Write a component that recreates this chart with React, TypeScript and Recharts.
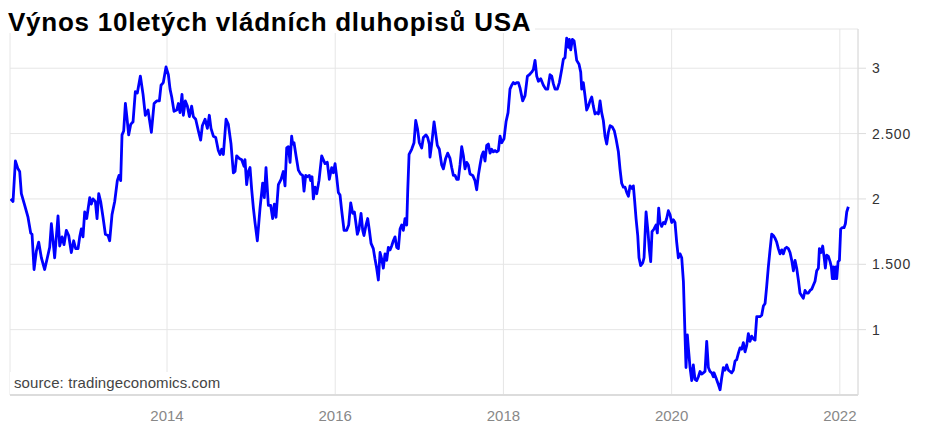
import { LineChart, Line, XAxis, YAxis, CartesianGrid } from "recharts";

// weekly-ish readings, decimal years + yield in %
const dates12_13 = [
  2012.141, 2012.169, 2012.197, 2012.228, 2012.248,
  2012.268, 2012.308, 2012.347, 2012.379, 2012.395,
  2012.419, 2012.446, 2012.474, 2012.506, 2012.545,
  2012.577, 2012.605, 2012.625, 2012.645, 2012.664,
  2012.704, 2012.724, 2012.752, 2012.775, 2012.803,
  2012.831, 2012.862, 2012.89, 2012.914, 2012.942,
  2012.962, 2012.981, 2013.001, 2013.021, 2013.045,
  2013.081, 2013.1, 2013.12, 2013.148, 2013.168,
  2013.188, 2013.211, 2013.239, 2013.267, 2013.299,
  2013.318, 2013.346, 2013.378, 2013.409, 2013.429,
  2013.449, 2013.465, 2013.485, 2013.505, 2013.524,
  2013.544, 2013.568, 2013.596, 2013.623, 2013.647,
  2013.683, 2013.715, 2013.742, 2013.774, 2013.814,
];
const yields12_13 = [
  2.0, 1.98, 2.29, 2.23, 2.21,
  2.04, 1.95, 1.86, 1.74, 1.73,
  1.46, 1.6, 1.67, 1.55, 1.46,
  1.55, 1.63, 1.81, 1.68, 1.55,
  1.87, 1.64, 1.71, 1.65, 1.76,
  1.72, 1.59, 1.68, 1.62, 1.62,
  1.71, 1.77, 1.71, 1.9, 1.85,
  2.01, 1.96, 2.0, 1.98, 1.85,
  2.04, 1.98, 1.86, 1.73, 1.72,
  1.68, 1.88, 1.98, 2.14, 2.18,
  2.14, 2.49, 2.52, 2.73, 2.62,
  2.49, 2.57, 2.59, 2.82, 2.81,
  2.94, 2.8, 2.64, 2.68, 2.51,
];

const dates13_15 = [
  2013.83, 2013.846, 2013.877, 2013.909, 2013.929,
  2013.956, 2013.988, 2014.016, 2014.036, 2014.056,
  2014.083, 2014.115, 2014.135, 2014.155, 2014.178,
  2014.194, 2014.218, 2014.242, 2014.266, 2014.293,
  2014.313, 2014.341, 2014.373, 2014.4, 2014.42,
  2014.452, 2014.48, 2014.503, 2014.523, 2014.551,
  2014.579, 2014.61, 2014.63, 2014.65, 2014.67,
  2014.702, 2014.729, 2014.761, 2014.789, 2014.809,
  2014.828, 2014.86, 2014.888, 2014.916, 2014.927,
  2014.947, 2014.967, 2014.987, 2015.007, 2015.027,
  2015.046, 2015.074, 2015.106, 2015.137, 2015.157,
  2015.177, 2015.205, 2015.233, 2015.256, 2015.276,
  2015.296, 2015.324, 2015.356, 2015.383, 2015.403,
  2015.423, 2015.443, 2015.463, 2015.482,
];
const yields13_15 = [
  2.62, 2.73, 2.75, 2.75, 2.87,
  2.89, 3.01, 2.95, 2.84, 2.78,
  2.67, 2.68, 2.73, 2.66, 2.8,
  2.64, 2.75, 2.71, 2.63, 2.71,
  2.63, 2.61, 2.52, 2.45, 2.56,
  2.61, 2.54, 2.64, 2.54, 2.48,
  2.47, 2.37, 2.34, 2.38, 2.34,
  2.61, 2.57, 2.42, 2.2, 2.21,
  2.33, 2.31, 2.3, 2.25, 2.3,
  2.11, 2.21, 2.24, 2.07, 1.93,
  1.82, 1.68, 1.93, 2.12, 2.01,
  2.24, 1.95, 1.95, 1.85, 1.96,
  1.86, 2.11, 2.15, 2.21, 2.1,
  2.39, 2.4, 2.28, 2.48,
];

const dates15_17 = [
  2015.494, 2015.51, 2015.534, 2015.562, 2015.589,
  2015.613, 2015.629, 2015.649, 2015.669, 2015.692,
  2015.708, 2015.724, 2015.74, 2015.76, 2015.78,
  2015.807, 2015.839, 2015.859, 2015.879, 2015.906,
  2015.93, 2015.958, 2015.978, 2015.998, 2016.017,
  2016.037, 2016.057, 2016.077, 2016.105, 2016.136,
  2016.16, 2016.184, 2016.208, 2016.228, 2016.247,
  2016.263, 2016.283, 2016.307, 2016.327, 2016.342,
  2016.366, 2016.386, 2016.406, 2016.426, 2016.453,
  2016.473, 2016.493, 2016.513, 2016.533, 2016.553,
  2016.572, 2016.592, 2016.612, 2016.632, 2016.652,
  2016.671, 2016.691, 2016.711, 2016.731, 2016.751,
  2016.771, 2016.79, 2016.81, 2016.83, 2016.85,
  2016.862, 2016.878, 2016.909, 2016.937, 2016.957,
  2016.98, 2017.0, 2017.028, 2017.048, 2017.08,
  2017.099, 2017.119,
];
const yields15_17 = [
  2.42, 2.43, 2.33, 2.22, 2.19,
  2.18, 2.06, 2.18, 2.17, 2.18,
  2.14, 2.17, 2.0, 2.09, 2.04,
  2.14, 2.33, 2.3, 2.27, 2.28,
  2.15, 2.24, 2.2, 2.27, 2.17,
  2.05, 2.03, 1.91, 1.76, 1.76,
  1.8, 1.97, 1.89, 1.9, 1.81,
  1.73, 1.77, 1.89, 1.76, 1.72,
  1.8, 1.85, 1.76, 1.66, 1.62,
  1.54, 1.47, 1.38, 1.59, 1.54,
  1.47, 1.58, 1.53, 1.63, 1.61,
  1.64, 1.68, 1.71, 1.63, 1.62,
  1.77, 1.8, 1.76, 1.85, 1.8,
  2.06, 2.34, 2.38, 2.43, 2.6,
  2.53, 2.43, 2.39, 2.47, 2.49,
  2.47, 2.42,
];

const dates17_18 = [
  2017.127, 2017.147, 2017.175, 2017.199, 2017.214,
  2017.238, 2017.266, 2017.286, 2017.313, 2017.337,
  2017.365, 2017.385, 2017.405, 2017.425, 2017.444,
  2017.464, 2017.484, 2017.504, 2017.524, 2017.543,
  2017.563, 2017.583, 2017.603, 2017.635, 2017.662,
  2017.682, 2017.702, 2017.722, 2017.742, 2017.761,
  2017.781, 2017.801, 2017.821, 2017.841, 2017.86,
  2017.88, 2017.9, 2017.92, 2017.94, 2017.96,
  2017.979, 2018.007, 2018.031, 2018.055, 2018.078,
  2018.098, 2018.118, 2018.138, 2018.158, 2018.178,
  2018.197, 2018.229, 2018.257, 2018.285, 2018.308,
  2018.336, 2018.356, 2018.376, 2018.396, 2018.416,
  2018.444, 2018.475, 2018.503, 2018.527, 2018.554,
  2018.574, 2018.594, 2018.614, 2018.641, 2018.665,
  2018.693, 2018.713, 2018.732, 2018.752, 2018.772,
  2018.784, 2018.8, 2018.82,
];
const yields17_18 = [
  2.32, 2.42, 2.59, 2.48, 2.41,
  2.38, 2.26, 2.23, 2.31, 2.35,
  2.31, 2.24, 2.18, 2.18, 2.15,
  2.15, 2.26, 2.4, 2.33, 2.23,
  2.28, 2.26, 2.19, 2.18, 2.14,
  2.07, 2.18, 2.26, 2.33, 2.36,
  2.29, 2.41, 2.42, 2.35, 2.38,
  2.36, 2.37, 2.36, 2.37, 2.48,
  2.43, 2.46, 2.59, 2.66, 2.84,
  2.87, 2.89, 2.88, 2.89, 2.89,
  2.85, 2.75, 2.79, 2.94, 2.95,
  2.97, 2.99, 3.06, 2.94, 2.9,
  2.92, 2.87, 2.84, 2.84, 2.95,
  2.94, 2.88, 2.84, 2.84, 2.89,
  2.99, 3.07, 3.08, 3.23, 3.16,
  3.22, 3.14, 3.22,
];

const dates18_20 = [
  2018.84, 2018.855, 2018.871, 2018.899, 2018.919,
  2018.931, 2018.95, 2018.97, 2018.99, 2019.01,
  2019.03, 2019.05, 2019.069, 2019.089, 2019.109,
  2019.129, 2019.149, 2019.168, 2019.188, 2019.208,
  2019.228, 2019.248, 2019.268, 2019.295, 2019.319,
  2019.339, 2019.367, 2019.386, 2019.406, 2019.426,
  2019.446, 2019.466, 2019.486, 2019.505, 2019.529,
  2019.545, 2019.561, 2019.577, 2019.597, 2019.612,
  2019.632, 2019.656, 2019.672, 2019.696, 2019.719,
  2019.735, 2019.751, 2019.767, 2019.791, 2019.814,
  2019.83, 2019.846, 2019.862, 2019.882, 2019.902,
  2019.921, 2019.941, 2019.961, 2019.981, 2020.001,
  2020.021, 2020.04, 2020.06, 2020.08, 2020.1,
  2020.12, 2020.14, 2020.159, 2020.171, 2020.187,
  2020.199, 2020.219, 2020.239, 2020.258, 2020.278,
  2020.298, 2020.318, 2020.338, 2020.357, 2020.377,
  2020.397, 2020.417, 2020.437, 2020.456, 2020.476,
  2020.496,
];
const yields18_20 = [
  3.21, 3.14, 3.06, 3.03, 2.97,
  2.84, 2.89, 2.79, 2.68, 2.71,
  2.75, 2.78, 2.71, 2.65, 2.66,
  2.65, 2.75, 2.66, 2.6, 2.48,
  2.42, 2.51, 2.56, 2.55, 2.52,
  2.46, 2.36, 2.23, 2.12, 2.09,
  2.09, 2.05, 2.02, 2.1, 2.08,
  2.1, 1.98, 1.85, 1.72, 1.55,
  1.49, 1.51, 1.55, 1.9, 1.75,
  1.61, 1.52, 1.75, 1.77, 1.8,
  1.74, 1.93, 1.82, 1.79, 1.82,
  1.81, 1.85, 1.91, 1.88, 1.82,
  1.84, 1.82, 1.67, 1.55, 1.58,
  1.55, 1.37, 0.96, 0.71, 0.96,
  0.86, 0.71, 0.61, 0.73, 0.62,
  0.61, 0.64, 0.68, 0.66, 0.67,
  0.68, 0.91, 0.71, 0.68, 0.67,
  0.64,
];

const dates20_22 = [
  2020.504, 2020.528, 2020.556, 2020.576, 2020.595,
  2020.615, 2020.635, 2020.655, 2020.675, 2020.694,
  2020.714, 2020.734, 2020.754, 2020.774, 2020.794,
  2020.813, 2020.833, 2020.853, 2020.873, 2020.893,
  2020.912, 2020.932, 2020.952, 2020.972, 2020.992,
  2021.012, 2021.031, 2021.051, 2021.071, 2021.091,
  2021.111, 2021.13, 2021.15, 2021.17, 2021.19,
  2021.21, 2021.229, 2021.249, 2021.269, 2021.289,
  2021.309, 2021.329, 2021.348, 2021.368, 2021.388,
  2021.408, 2021.428, 2021.448, 2021.467, 2021.487,
  2021.507, 2021.526, 2021.546, 2021.566, 2021.586,
  2021.606, 2021.626, 2021.646, 2021.666, 2021.685,
  2021.705, 2021.725, 2021.745, 2021.757, 2021.777,
  2021.796, 2021.812, 2021.828, 2021.844, 2021.864,
  2021.884, 2021.899, 2021.911, 2021.923, 2021.935,
  2021.951, 2021.963, 2021.979, 2021.995, 2022.01,
  2022.03, 2022.05, 2022.066, 2022.082, 2022.101,
];
const yields20_22 = [
  0.67, 0.63, 0.58, 0.54, 0.63,
  0.71, 0.69, 0.73, 0.69, 0.68,
  0.67, 0.69, 0.76, 0.77, 0.82,
  0.86, 0.85, 0.9, 0.83, 0.88,
  0.97, 0.91, 0.95, 0.93, 0.92,
  1.1, 1.1, 1.1, 1.11, 1.18,
  1.2, 1.33, 1.48, 1.61, 1.73,
  1.72, 1.7, 1.67, 1.62, 1.58,
  1.61, 1.58, 1.62, 1.63, 1.62,
  1.59, 1.53, 1.45, 1.53, 1.47,
  1.38, 1.28, 1.26, 1.24, 1.3,
  1.28, 1.28, 1.3, 1.31, 1.34,
  1.37, 1.45, 1.47, 1.62, 1.59,
  1.64, 1.56, 1.47, 1.57, 1.56,
  1.52, 1.48, 1.39, 1.48, 1.39,
  1.48, 1.39, 1.52, 1.53, 1.77,
  1.78, 1.78, 1.81, 1.9, 1.94,
];

const yearTicks = [2014, 2016, 2018, 2020, 2022];
const yieldTicks = [1, 1.5, 2, 2.5, 3];

const dates = [
  ...dates12_13, ...dates13_15, ...dates15_17,
  ...dates17_18, ...dates18_20, ...dates20_22,
];
const yields = [
  ...yields12_13, ...yields13_15, ...yields15_17,
  ...yields17_18, ...yields18_20, ...yields20_22,
];
const data = dates.map((d, i) => ({ date: d, value: yields[i] }));

const fmtYield = (v: number) => (Number.isInteger(v) ? String(v) : v.toFixed(3));

const font = '"Liberation Sans", Arial, Helvetica, sans-serif';

export default function App() {
  return (
    <div
      style={{
        position: "absolute",
        left: 0,
        top: 0,
        width: 925,
        height: 432,
        background: "#fff",
        fontFamily: font,
        overflow: "hidden",
      }}
    >
      <LineChart
        width={925}
        height={432}
        data={data}
        margin={{ top: 29, right: 7, bottom: 7, left: 10 }}
      >
        <CartesianGrid stroke="#e6e6e6" />
        <XAxis
          dataKey="date"
          type="number"
          domain={[2012.133, 2022.216]}
          ticks={yearTicks}
          allowDataOverflow
          height={30}
          axisLine={{ stroke: "#dcdcdc", strokeWidth: 2 }}
          tickLine={false}
          tickSize={5}
          tickMargin={10}
          tick={{ fontSize: 15, fill: "#888", fontFamily: font }}
        />
        <YAxis
          orientation="right"
          domain={[0.5, 3.3]}
          ticks={yieldTicks}
          allowDataOverflow
          width={60}
          tickFormatter={fmtYield}
          axisLine={{ stroke: "#dcdcdc" }}
          tickLine={{ stroke: "#dcdcdc" }}
          tickSize={8}
          tickMargin={6}
          tick={{ fontSize: 14, fill: "#333", fontFamily: font, letterSpacing: 0.8 }}
        />
        <Line
          type="linear"
          dataKey="value"
          stroke="#0000ff"
          strokeWidth={2.8}
          strokeLinejoin="round"
          dot={false}
          isAnimationActive={false}
        />
      </LineChart>
      <div
        style={{
          position: "absolute",
          left: 0,
          top: 0,
          height: 33,
          boxSizing: "border-box",
          paddingTop: 8,
          paddingLeft: 8,
          paddingRight: 4,
          lineHeight: "28px",
          fontSize: 26,
          fontWeight: 700,
          letterSpacing: 0.75,
          color: "#000",
          background: "#fff",
          whiteSpace: "nowrap",
        }}
      >
        Výnos 10letých vládních dluhopisů USA
      </div>
      <div
        style={{
          position: "absolute",
          left: 10,
          top: 372,
          height: 22,
          lineHeight: "22px",
          padding: "0 6px 0 4px",
          fontSize: 15,
          letterSpacing: 0.1,
          color: "#444",
          background: "#fff",
          whiteSpace: "nowrap",
        }}
      >
        source: tradingeconomics.com
      </div>
    </div>
  );
}
